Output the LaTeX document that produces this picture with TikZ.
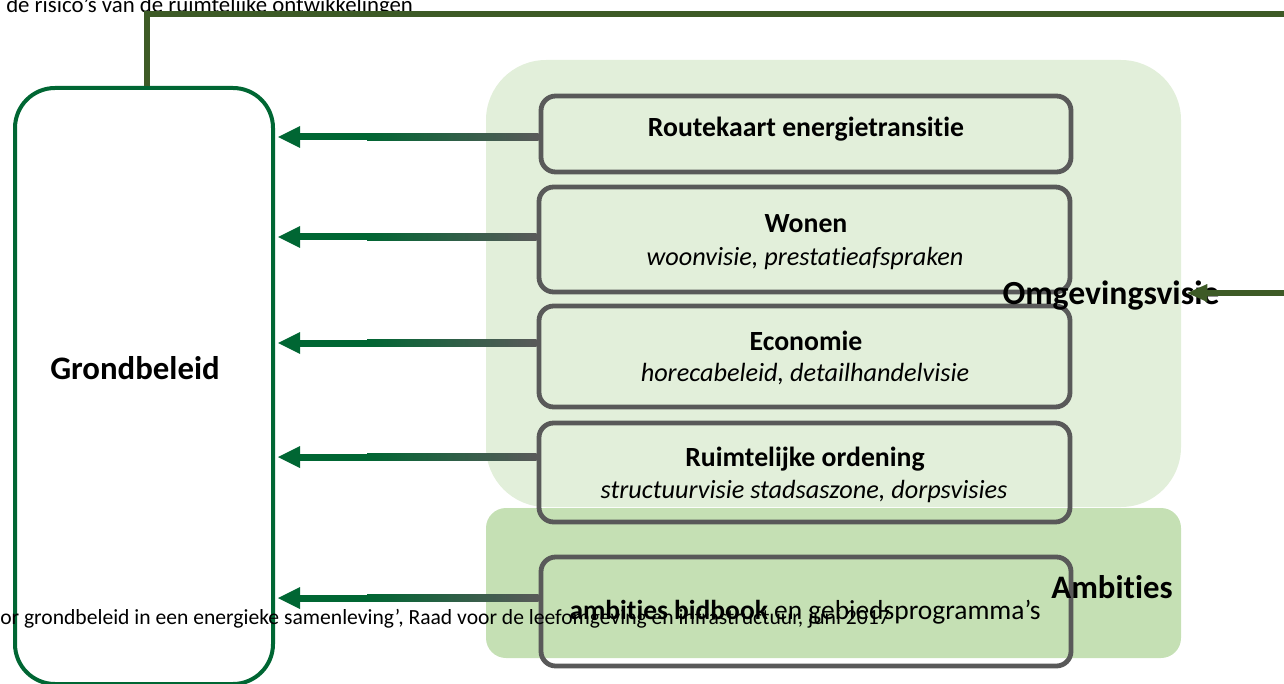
\documentclass[tikz,border=0pt]{standalone}
\usepackage{fontspec}
\setmainfont{Carlito}[Ligatures=NoCommon]
\usetikzlibrary{fit,calc}
\definecolor{dkgreen}{HTML}{006633}
\definecolor{olivegr}{HTML}{3D5A26}
\definecolor{boxgray}{HTML}{595959}
\definecolor{lightbg}{HTML}{E2EFDA}
\definecolor{ambbg}{HTML}{C5E0B4}
\newcommand{\gradarrow}[2]{%
  \coordinate (hd#2) at ($(grond.east |- 0,#1)+(3,0)$);
  \coordinate (tl#2) at (#2.west |- 0,#1);
  \fill[dkgreen] ($(hd#2)+(18,-3.5)$) rectangle ($(hd#2)+(90,3.5)$);
  \shade[left color=dkgreen,right color=boxgray] ($(hd#2)+(89,-3.5)$) rectangle ($(tl#2)+(0,3.5)$);
  \fill[dkgreen] (hd#2) -- ++(22,-11) -- ++(0,22) -- cycle;
}
\begin{document}
\begin{tikzpicture}[x=0.75pt,y=-0.75pt,
  bg/.style={inner sep=0pt, draw=none},
  item/.style={draw=boxgray, line width=3.6pt, rounded corners=11pt, inner sep=0pt},
  bold/.style={font=\fontsize{20.8}{24}\selectfont\bfseries},
  ital/.style={font=\fontsize{19.7}{23}\selectfont\itshape},
  head/.style={font=\fontsize{25.3}{29}\selectfont\bfseries}]
\useasboundingbox (0,0) rectangle (1284,684);
% top text
\node[font=\fontsize{17.1}{20}\selectfont, anchor=base west, inner sep=0pt] (toptxt) at (6,13) {de risico’s van de ruimtelijke ontwikkelingen};
% backgrounds
\node[bg, fit={(486,60) (1181,507)}, fill=lightbg, rounded corners=45pt] (omg) {};
\node[bg, fit={(486,508) (1181,658)}, fill=ambbg, rounded corners=15pt] (amb) {};
% grondbeleid
\node[fit={(15,88) (273,684)}, inner sep=0pt, draw=dkgreen, line width=3pt, rounded corners=30pt] (grond) {};
\node[font=\fontsize{24.6}{28}\selectfont\bfseries] (grondtxt) at (135,368) {Grondbeleid};
% boxes
\node[item, fit={(541,96) (1071,172)}] (route) {};
\node[item, fit={(539,187) (1070,292)}] (wonen) {};
\node[item, fit={(539,306) (1070,407)}] (econ) {};
\node[item, fit={(539,423) (1070,522)}] (ro) {};
\node[item, fit={(541,557) (1071,666)}] (ambbox) {};
% box texts
\node[bold] (t1) at (806,129) {Routekaart energietransitie};
\node[bold] (t2) at (806,224) {Wonen};
\node[ital] (t2b) at (805,258) {woonvisie, prestatieafspraken};
\node[bold] (t3) at (806,341) {Economie};
\node[ital] (t3b) at (805,374) {horecabeleid, detailhandelvisie};
\node[bold] (t4) at (805,459) {Ruimtelijke ordening};
\node[ital] (t4b) at (804,491) {structuurvisie stadsaszone, dorpsvisies};
% bottom source text
\node[font=\fontsize{16.2}{19}\selectfont, anchor=base west, inner sep=0pt] (srctxt) at (0,624) {or grondbeleid in een energieke samenleving’, Raad voor de leefomgeving en infrastructuur, juni 2017};
\node[font=\fontsize{20.6}{24}\selectfont] (t5) at (805,612) {\textbf{ambities bidbook} en gebiedsprogramma’s};
% arrows
\gradarrow{137}{route}
\gradarrow{237}{wonen}
\gradarrow{343}{econ}
\gradarrow{457}{ro}
\gradarrow{598}{ambbox}
% labels
\node[head] (omgtxt) at (1111,296) {Omgevingsvisie};
\node[head, font=\fontsize{24.6}{28}\selectfont\bfseries] (ambtxt) at (1112,587) {Ambities};
% olive connectors
\coordinate (topend) at (1284,14);
\coordinate (rightend) at (1284,293);
\coordinate (gtop) at (grond.north -| 147,0);
\draw[olivegr, line width=3.8pt] (gtop) -- (147,14) -- (topend);
\draw[olivegr, line width=3.8pt] (rightend) -- ($(omg.east |- rightend)+(24,0)$);
\fill[olivegr] ($(omg.east |- rightend)+(6,0)$) -- ++(20,-9) -- ++(0,18) -- cycle;
\end{tikzpicture}
\end{document}
